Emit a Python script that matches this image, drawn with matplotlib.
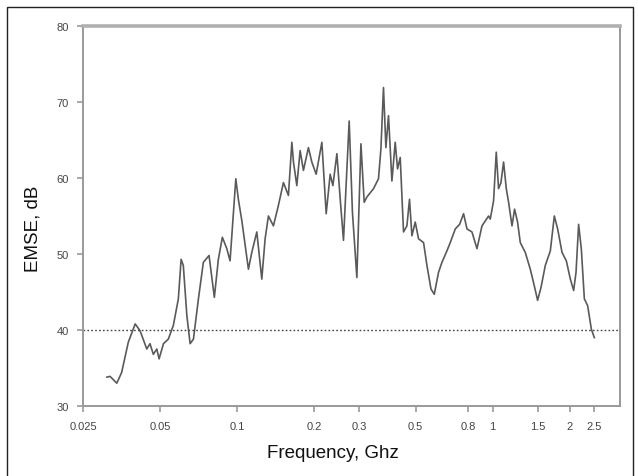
import matplotlib
matplotlib.use("Agg")
import matplotlib.pyplot as plt
from matplotlib.patches import Rectangle

plt.rcParams['font.family'] = ['Liberation Sans', 'DejaVu Sans']

# EMSE curve (frequency in GHz, level in dB)
freq = [0.0310, 0.0319, 0.0339, 0.0354, 0.0376, 0.0400, 0.0418, 0.0444, 0.0457, 0.0471,
        0.0486, 0.0496, 0.0516, 0.0539, 0.0564, 0.0590, 0.0605, 0.0617, 0.0637, 0.0656,
        0.0676, 0.0707, 0.0739, 0.0778, 0.0816, 0.0846, 0.0877, 0.0913, 0.0940, 0.0969,
        0.0990, 0.1013, 0.1045, 0.1109, 0.1143, 0.1196, 0.1251, 0.1289, 0.1328, 0.1389,
        0.1453, 0.1520, 0.1590, 0.1640, 0.1664, 0.1715, 0.1767, 0.1820, 0.1904, 0.1963,
        0.2041, 0.2149, 0.2234, 0.2316, 0.2373, 0.2460, 0.2535, 0.2611, 0.2748, 0.2830,
        0.2945, 0.3055, 0.3146, 0.3223, 0.3422, 0.3578, 0.3657, 0.3743, 0.3825, 0.3916,
        0.4038, 0.4160, 0.4248, 0.4352, 0.4483, 0.4622, 0.4732, 0.4835, 0.4982, 0.5133,
        0.5370, 0.5536, 0.5740, 0.5914, 0.6146, 0.6337, 0.6587, 0.6830, 0.7145, 0.7428,
        0.7701, 0.7940, 0.8304, 0.8688, 0.9088, 0.9645, 0.9793, 1.0088, 1.0335, 1.0552,
        1.0782, 1.1040, 1.1312, 1.1549, 1.1908, 1.2190, 1.2523, 1.2833, 1.3424, 1.4043,
        1.4560, 1.4998, 1.5464, 1.6075, 1.6817, 1.7435, 1.7964, 1.8690, 1.9427, 2.014,
        2.075, 2.120, 2.170, 2.223, 2.285, 2.354, 2.434, 2.500]
emse = [33.8, 33.9, 33.0, 34.4, 38.4, 40.8, 39.9, 37.5, 38.2, 36.8,
        37.5, 36.2, 38.2, 38.8, 40.6, 44.1, 49.3, 48.5, 41.9, 38.2,
        38.8, 44.1, 48.9, 49.8, 44.3, 49.3, 52.2, 50.7, 49.1, 55.5,
        59.9, 57.2, 54.4, 48.0, 50.2, 52.9, 46.7, 52.0, 55.0, 53.7,
        56.4, 59.4, 57.7, 64.7, 62.1, 59.0, 63.6, 61.0, 64.0, 62.1,
        60.5, 64.7, 55.3, 60.5, 59.0, 63.2, 57.2, 51.8, 67.5, 55.5,
        46.9, 64.5, 56.8, 57.5, 58.6, 59.9, 63.8, 71.9, 64.0, 68.2,
        59.6, 64.7, 61.2, 62.7, 52.9, 53.7, 57.2, 52.4, 54.2, 52.0,
        51.5, 48.5, 45.4, 44.7, 47.6, 48.9, 50.2, 51.5, 53.3, 53.9,
        55.3, 53.3, 52.9, 50.7, 53.7, 55.0, 54.6, 57.0, 63.4, 58.6,
        59.4, 62.1, 58.6, 56.8, 53.7, 55.9, 54.2, 51.5, 50.2, 48.0,
        45.8, 43.9, 45.6, 48.5, 50.4, 55.0, 53.3, 50.2, 49.1, 46.7,
        45.2, 47.6, 53.9, 50.7, 44.1, 43.2, 40.1, 39.0]

threshold = 40
xticks = [0.025, 0.05, 0.1, 0.2, 0.3, 0.5, 0.8, 1, 1.5, 2, 2.5]
xtick_labels = ['0.025', '0.05', '0.1', '0.2', '0.3', '0.5', '0.8', '1', '1.5', '2', '2.5']
yticks = [30, 40, 50, 60, 70, 80]

fig = plt.figure(figsize=(6.38, 4.77), dpi=100)
ax = fig.add_axes([83 / 638, 1 - 407 / 477, (620 - 83) / 638, 380 / 477])

ax.plot(freq, emse, color='#5a5a5a', lw=1.2)
ax.axhline(threshold, color='#444444', lw=1.0, ls=(0, (1.2, 1.6)))

ax.set_xscale('log')
ax.set_xlim(0.025, 3.15)
ax.set_ylim(30, 80)
ax.set_xticks(xticks)
ax.set_xticklabels(xtick_labels)
ax.minorticks_off()
ax.set_yticks(yticks)

for side in ['left', 'bottom', 'right']:
    ax.spines[side].set_color('#999999')
    ax.spines[side].set_linewidth(1.4)
ax.spines['top'].set_color('#b0b0b0')
ax.spines['top'].set_linewidth(2.6)

ax.tick_params(axis='both', colors='#999999', length=4, width=1.2,
               labelsize=8, labelcolor='#444444')
ax.tick_params(axis='x', pad=7)
ax.tick_params(axis='y', pad=6)

ax.set_xlabel('Frequency, Ghz', fontsize=13.5, color='#111111')
ax.set_ylabel('EMSE, dB', fontsize=13.5, color='#111111')
ax.xaxis.set_label_coords(0.465, -0.1)
ax.yaxis.set_label_coords(-0.078, 0.47)

# outer frame around the figure
fig.add_artist(Rectangle((7 / 638, -0.02), (633 - 7) / 638, 1.02 - 8 / 477,
                         transform=fig.transFigure, fill=False,
                         edgecolor='#222222', lw=1.0))

fig.savefig('out.png', dpi=100)
